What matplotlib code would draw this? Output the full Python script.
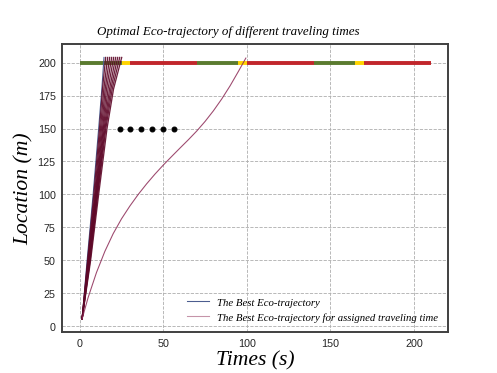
import matplotlib
matplotlib.use('Agg')
import matplotlib.pyplot as plt

# signal phases on the 200 m line: (start, end, colour name)
signal_start = [0, 25, 30, 70, 95, 100, 140, 165, 170]
signal_end = [25, 30, 70, 95, 100, 140, 165, 170, 210]
signal_state = ['g', 'y', 'r', 'g', 'y', 'r', 'g', 'y', 'r']
signal_y = 200

# best eco-trajectory (y levels shared by the bundle)
bundle_y = [5.5, 50, 100, 150, 180, 204]
best_x = [1.4, 4.4, 8.0, 11.3, 13.2, 14.5]

# the other trajectories of the bundle (one row per travel time)
bundle_x = [
    [1.4, 4.7, 8.4, 11.8, 13.6, 15.5],
    [1.4, 4.9, 8.9, 12.4, 14.4, 16.7],
    [1.4, 5.1, 9.3, 13.0, 15.2, 17.9],
    [1.4, 5.3, 9.6, 13.6, 16.0, 19.1],
    [1.4, 5.5, 9.9, 14.1, 16.9, 20.3],
    [1.4, 5.8, 10.2, 14.6, 17.8, 21.5],
    [1.4, 6.0, 10.5, 15.1, 18.6, 22.7],
    [1.4, 6.2, 10.8, 15.6, 19.4, 23.9],
    [1.4, 6.5, 11.3, 16.3, 20.2, 25.1],
]

# trajectory for the assigned (long) traveling time
long_x = [1.4, 5, 10, 15, 20, 25, 30, 35, 40, 45, 50, 55, 60, 65, 70, 75,
          80, 85, 90, 95, 97.6, 99.4]
long_y = [5.5, 21.7, 40.7, 56.7, 70.2, 81.5, 91.2, 100, 108, 115.4, 122.3,
          128.8, 135.2, 141.5, 148.1, 155.4, 163.5, 172.5, 182.5, 193.5,
          199.4, 203.5]

# dots
dots_x = [23.8, 30.1, 36.5, 43.1, 49.7, 56.3]
dots_y = [150, 150, 150, 150, 150, 150]

colors = {'g': '#5b7b2f', 'y': '#ffd400', 'r': '#c1262b'}

fig = plt.figure(figsize=(6.4, 4.8), dpi=77.8)
ax = fig.add_subplot(111)

for s, e, c in zip(signal_start, signal_end, signal_state):
    ax.plot([s, e], [signal_y, signal_y], color=colors[c], lw=3.6,
            solid_capstyle='butt', zorder=2)

ax.plot(best_x, bundle_y, color='#4c5d8f', lw=1.0, zorder=3,
        label='The Best Eco-trajectory')
for bx in bundle_x:
    ax.plot(bx, bundle_y, color='#5e0828', lw=1.2, alpha=0.9, zorder=3)
ax.plot(long_x, long_y, color='#8c2a55', lw=1.0, alpha=0.85, zorder=3,
        label='The Best Eco-trajectory for assigned traveling time')

ax.plot(dots_x, dots_y, 'o', color='black', ms=4.5, zorder=4)

ax.set_xticks([0, 50, 100, 150, 200])
ax.set_yticks([0, 25, 50, 75, 100, 125, 150, 175, 200])
ax.grid(True, linestyle='--', color='#b0b0b0', lw=0.8)
ax.tick_params(length=0, labelsize=10, labelcolor='#262626', pad=6)
for lab in ax.get_xticklabels() + ax.get_yticklabels():
    lab.set_family('Liberation Sans')
for sp in ax.spines.values():
    sp.set_color('#404040')
    sp.set_linewidth(1.8)

serif = {'family': 'Liberation Serif', 'style': 'italic'}
ax.set_xlabel('Times (s)', fontdict=serif, fontsize=20, labelpad=2)
ax.set_ylabel('Location (m)', fontdict=serif, fontsize=20, labelpad=4)
ax.text(0.43, 1.025, 'Optimal Eco-trajectory of different traveling times',
        transform=ax.transAxes, ha='center', va='bottom', fontsize=12,
        family='Liberation Serif', style='italic')

leg = ax.legend(loc='lower right', frameon=False,
                prop={'family': 'Liberation Serif', 'style': 'italic',
                      'size': 10})
leg.get_lines()[1].set_alpha(0.5)

fig.savefig('out.png', dpi=77.8)
